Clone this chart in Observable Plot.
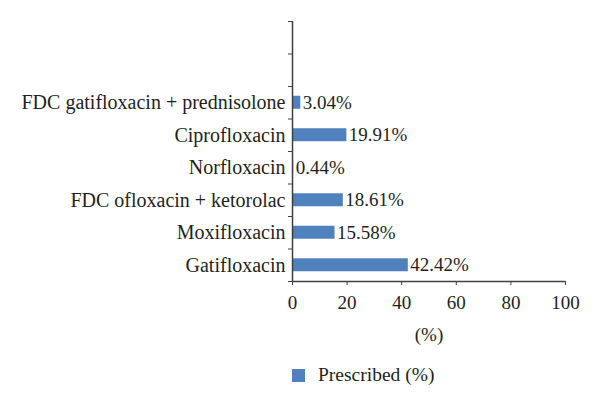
<!DOCTYPE html>
<html>
<head>
<meta charset="utf-8">
<script src="https://cdn.jsdelivr.net/npm/d3@7"></script>
<script src="https://cdn.jsdelivr.net/npm/@observablehq/plot@0.6"></script>
<style>
  html, body { margin: 0; padding: 0; background: #fff; }
  #chart { width: 600px; font-family: "Liberation Serif", "DejaVu Serif", serif; color: #231f20; }
  #chart svg, #chart svg text { font-family: "Liberation Serif", "DejaVu Serif", serif !important; }
  .legend { display: flex; align-items: center; margin-left: 292px; margin-top: 9px; font-size: 19.5px; }
  .legend .sw { width: 13px; height: 13px; background: #4f81bd; margin-right: 13px; }
</style>
</head>
<body>
<div id="chart"></div>
<script>
// Categories listed from bottom to top; two empty slots sit above the last one
const categories = [
  "Gatifloxacin",
  "Moxifloxacin",
  "FDC ofloxacin + ketorolac",
  "Norfloxacin",
  "Ciprofloxacin",
  "FDC gatifloxacin + prednisolone"
];
const prescribed = [42.42, 15.58, 18.61, 0.44, 19.91, 3.04];
const emptySlots = 2;
const xTicks = [0, 20, 40, 60, 80, 100];
const seriesName = "Prescribed (%)";
const xLabel = "(%)";

const data = categories.map((c, i) => ({ name: c, value: prescribed[i], idx: i }));
const nSlots = categories.length + emptySlots;
const boundaries = d3.range(0, nSlots + 1);
const centers = categories.map((c, i) => i + 0.5);

const plot = Plot.plot({
  width: 600,
  height: 355,
  marginLeft: 292,
  marginRight: 35,
  marginTop: 21,
  marginBottom: 74,
  style: { fontFamily: "'Liberation Serif', 'DejaVu Serif', serif", fontSize: "19px", color: "#231f20", background: "#fff" },
  x: { domain: [0, 100], ticks: xTicks },
  y: { domain: [0, nSlots] },
  marks: [
    Plot.rectX(data, { x1: 0, x2: "value", y1: d => d.idx + 0.3, y2: d => d.idx + 0.7, fill: "#4f81bd" }),
    Plot.text(data, { x: "value", y: d => d.idx + 0.5, text: d => d.value.toFixed(2) + "%", textAnchor: "start", dx: 2, fontSize: 19, fill: "#231f20" }),
    Plot.axisY({ ticks: boundaries, tickFormat: () => "", tickSize: 4, stroke: "#404040", strokeOpacity: 1 }),
    Plot.axisY({ ticks: centers, tickFormat: (d) => categories[Math.round(d - 0.5)], tickSize: 0, tickPadding: 7, fontSize: 20, fill: "#231f20", label: null }),
    Plot.axisX({ ticks: xTicks, tickSize: 4, tickPadding: 10, fontSize: 19, fill: "#231f20", stroke: "#404040", strokeOpacity: 1, label: xLabel, labelAnchor: "center", labelArrow: "none", labelOffset: 59 }),
    Plot.ruleX([0], { stroke: "#404040", strokeWidth: 1.5 }),
    Plot.ruleY([0], { stroke: "#404040", strokeWidth: 1.5 })
  ]
});

const chart = document.getElementById("chart");
chart.appendChild(plot);
const legend = document.createElement("div");
legend.className = "legend";
legend.innerHTML = `<div class="sw"></div><span>${seriesName}</span>`;
chart.appendChild(legend);
</script>
</body>
</html>
